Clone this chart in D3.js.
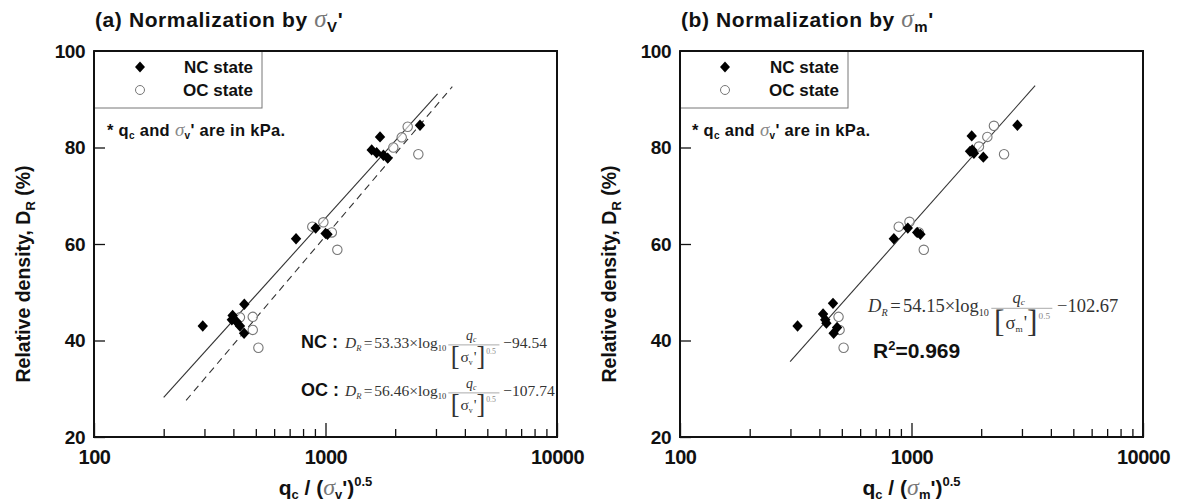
<!DOCTYPE html>
<html><head><meta charset="utf-8">
<script src="https://cdn.jsdelivr.net/npm/d3@7"></script>
<style>
body{margin:0;background:#fff}
text{font-family:"Liberation Sans",Arial,Helvetica,sans-serif}
.serif{font-family:"Liberation Serif","Times New Roman",serif}
</style>
</head><body>
<svg id="c" width="1179" height="502"></svg>
<script>
// ---------- data ----------
const xTickLabels = [100, 1000, 10000];
const xMinorTicks = [200,300,400,500,600,700,800,900,2000,3000,4000,5000,6000,7000,8000,9000];
const yTickLabels = [20, 40, 60, 80, 100];

// Panel (a): normalization by sigma_v'
const ncA_x = [295, 397, 394, 413, 427, 445, 446, 746, 907, 1001, 1020, 1583, 1663, 1779, 1856, 1720, 2560];
const ncA_y = [43.0, 45.2, 44.3, 43.9, 43.0, 41.5, 47.5, 61.1, 63.3, 62.2, 62.0, 79.5, 78.9, 78.4, 77.8, 82.2, 84.6];
const ocA_x = [427, 485, 485, 513, 877, 979, 1065, 1125, 1963, 2134, 2265, 2518];
const ocA_y = [44.8, 44.9, 42.2, 38.5, 63.6, 64.5, 62.4, 58.8, 80.0, 82.1, 84.3, 78.6];
const fitA_nc_x = [200, 3050];
const fitA_nc_y = [28.2, 91.1];
const fitA_oc_x = [250, 3530];
const fitA_oc_y = [27.6, 92.6];

// Panel (b): normalization by sigma_m'
const ncB_x = [322, 415, 424, 429, 458, 477, 461, 839, 964, 1058, 1093, 1790, 1830, 1860, 1820, 2043, 2868];
const ncB_y = [43.0, 45.5, 44.3, 43.6, 47.7, 42.7, 41.5, 61.1, 63.3, 62.4, 62.0, 79.2, 79.5, 78.8, 82.4, 78.0, 84.6];
const ocB_x = [484, 489, 509, 881, 980, 1076, 1130, 1956, 2126, 2270, 2511];
const ocB_y = [44.9, 42.2, 38.5, 63.6, 64.6, 62.4, 58.8, 80.2, 82.2, 84.5, 78.6];
const fitB_x = [299, 3420];
const fitB_y = [35.6, 92.8];

// ---------- drawing ----------
const svg = d3.select("#c");
const top_ = 51, bottom = 437;

function diamondPath(cx, cy, w, h){
  return `M${cx},${cy-h}L${cx+w},${cy}L${cx},${cy+h}L${cx-w},${cy}Z`;
}

function panel(opt){
  const g = svg.append("g");
  const x = d3.scaleLog().domain([100, 10000]).range([opt.left, opt.right]);
  const y = d3.scaleLinear().domain([20, 100]).range([bottom, top_]);

  // minor x ticks
  g.append("g").attr("transform", `translate(0,${bottom})`)
    .call(d3.axisBottom(x).tickValues(xMinorTicks).tickSizeInner(-8).tickSizeOuter(0).tickFormat(""))
    .call(a => a.select(".domain").remove())
    .call(a => a.selectAll("line").attr("stroke", "#111").attr("stroke-width", 1.3));
  // major x ticks + labels
  g.append("g").attr("transform", `translate(0,${bottom})`)
    .call(d3.axisBottom(x).tickValues(xTickLabels).tickSizeInner(-14).tickSizeOuter(0).tickPadding(13).tickFormat(d3.format("d")))
    .call(a => a.select(".domain").remove())
    .call(a => a.selectAll("line").attr("stroke", "#111").attr("stroke-width", 1.3))
    .call(a => a.selectAll("text").attr("font-size", 20).attr("font-weight", "bold").attr("fill", "#111")
                .attr("font-family", "'Liberation Sans',Arial,sans-serif").attr("letter-spacing", -0.5));
  // y ticks + labels
  g.append("g").attr("transform", `translate(${opt.left},0)`)
    .call(d3.axisLeft(y).tickValues(yTickLabels).tickSizeInner(-11).tickSizeOuter(0).tickPadding(9).tickFormat(d3.format("d")))
    .call(a => a.select(".domain").remove())
    .call(a => a.selectAll("line").attr("stroke", "#111").attr("stroke-width", 1.3))
    .call(a => a.selectAll("text").attr("font-size", 19).attr("font-weight", "bold").attr("fill", "#111")
                .attr("font-family", "'Liberation Sans',Arial,sans-serif").attr("letter-spacing", -0.5));

  // frame
  g.append("rect").attr("x", opt.left).attr("y", top_).attr("width", opt.right - opt.left).attr("height", bottom - top_)
    .attr("fill", "none").attr("stroke", "#111").attr("stroke-width", 2);

  // legend box
  g.append("rect").attr("x", opt.left).attr("y", top_).attr("width", opt.legW).attr("height", 57)
    .attr("fill", "#fff").attr("stroke", "#777").attr("stroke-width", 1);
  g.append("path").attr("d", diamondPath(opt.left + opt.legMark, 67, 5, 5.5)).attr("fill", "#000");
  g.append("circle").attr("cx", opt.left + opt.legMark).attr("cy", 90).attr("r", 4.5)
    .attr("fill", "#fff").attr("stroke", "#777").attr("stroke-width", 1);
  g.append("text").attr("x", opt.left + opt.legW - 9).attr("y", 73).attr("text-anchor", "end")
    .attr("font-size", 17).attr("font-weight", "bold").attr("fill", "#111").text("NC state");
  g.append("text").attr("x", opt.left + opt.legW - 9).attr("y", 96).attr("text-anchor", "end")
    .attr("font-size", 17).attr("font-weight", "bold").attr("fill", "#111").text("OC state");

  // re-draw frame top/left over legend
  g.append("line").attr("x1", opt.left).attr("x2", opt.right).attr("y1", top_).attr("y2", top_).attr("stroke", "#111").attr("stroke-width", 2);
  g.append("line").attr("x1", opt.left).attr("x2", opt.left).attr("y1", top_).attr("y2", bottom).attr("stroke", "#111").attr("stroke-width", 2);

  // note
  const note = g.append("text").attr("x", opt.left + opt.noteDx).attr("y", 136)
    .attr("font-size", 16.5).attr("font-weight", "bold").attr("fill", "#111").attr("letter-spacing", 0.3);
  note.append("tspan").text("* q");
  note.append("tspan").attr("font-size", 10).attr("dy", 3).text("c");
  note.append("tspan").attr("dy", -3).text(" and ");
  note.append("tspan").attr("class", "serif").attr("font-style", "italic").attr("font-weight", "normal").attr("fill", "#888").attr("font-size", 19).text("σ");
  note.append("tspan").attr("font-size", 10).attr("dy", 3).text("v");
  note.append("tspan").attr("dy", -3).text("' are in kPa.");

  // fit lines
  opt.fits.forEach(f => {
    const pts = f.x.map((v, i) => [x(v), y(f.y[i])]);
    g.append("path").attr("d", d3.line()(pts)).attr("fill", "none").attr("stroke", "#333")
      .attr("stroke-width", 1.1).attr("stroke-dasharray", f.dash ? "7,5" : null);
  });

  // OC circles
  opt.oc.x.forEach((v, i) => {
    g.append("circle").attr("cx", x(v)).attr("cy", y(opt.oc.y[i])).attr("r", 4.7)
      .attr("fill", "#fff").attr("fill-opacity", 0.6).attr("stroke", "#777").attr("stroke-width", 1.1);
  });
  // NC diamonds
  opt.nc.x.forEach((v, i) => {
    g.append("path").attr("d", diamondPath(x(v), y(opt.nc.y[i]), 5.2, 5.7)).attr("fill", "#000");
  });

  // title
  const t = g.append("text").attr("x", opt.left + 1).attr("y", 27).attr("font-size", 21).attr("font-weight", "bold")
    .attr("fill", "#111").attr("letter-spacing", 0.6);
  t.append("tspan").text("(" + opt.letter + ") Normalization by ");
  t.append("tspan").attr("class", "serif").attr("font-style", "italic").attr("font-weight", "normal").attr("fill", "#777").attr("font-size", 25).text("σ");
  t.append("tspan").attr("font-size", 15).attr("dy", 5).text(opt.titleSub);
  t.append("tspan").attr("dy", -5).text("'");

  // y axis title
  const yt = g.append("text").attr("transform", `translate(${opt.left - 64},${(top_ + bottom) / 2 + 30}) rotate(-90)`)
    .attr("text-anchor", "middle").attr("font-size", 19.5).attr("font-weight", "bold").attr("fill", "#111");
  yt.append("tspan").text("Relative density, D");
  yt.append("tspan").attr("font-size", 13).attr("dy", 5).text("R");
  yt.append("tspan").attr("dy", -5).text(" (%)");

  // x axis title
  const xt = g.append("text").attr("x", x(1000)).attr("y", 495).attr("text-anchor", "middle")
    .attr("font-size", 21).attr("font-weight", "bold").attr("fill", "#111");
  xt.append("tspan").text("q");
  xt.append("tspan").attr("font-size", 13).attr("dy", 4).text("c");
  xt.append("tspan").attr("dy", -4).text(" / (");
  xt.append("tspan").attr("class", "serif").attr("font-style", "italic").attr("font-weight", "normal").attr("fill", "#777").attr("font-size", 24).text("σ");
  xt.append("tspan").attr("font-size", 13).attr("dy", 4).text(opt.sub);
  xt.append("tspan").attr("dy", -4).text("')");
  xt.append("tspan").attr("font-size", 13).attr("dy", -9).text("0.5");

  return g;
}

// equation: D_R = k×log10 (q_c / [σ_s']^0.5) c
function equation(g, x0, yb, fs, coef, sub, cst){
  const col = "#333";
  const t = g.append("text").attr("class", "serif").attr("x", x0).attr("y", yb).attr("font-size", fs).attr("fill", col);
  t.append("tspan").attr("font-style", "italic").text("D");
  t.append("tspan").attr("font-style", "italic").attr("font-size", fs * 0.55).attr("dy", fs * 0.2).text("R");
  t.append("tspan").attr("dy", -fs * 0.2).attr("dx", fs * 0.15).text("=");
  t.append("tspan").attr("dx", fs * 0.12).text(coef + "×log");
  t.append("tspan").attr("font-size", fs * 0.55).attr("dy", fs * 0.2).text("10");
  const w = t.node().getComputedTextLength();
  const fx = x0 + w + fs * 0.4;
  const fw = fs * 3.3;
  const ly = yb - fs * 0.2;
  // numerator
  const num = g.append("text").attr("class", "serif").attr("x", fx + fw * 0.45).attr("y", ly - fs * 0.3)
    .attr("text-anchor", "middle").attr("font-size", fs * 0.9).attr("fill", col);
  num.append("tspan").attr("font-style", "italic").text("q");
  num.append("tspan").attr("font-style", "italic").attr("font-size", fs * 0.5).attr("dy", fs * 0.12).text("c");
  // line
  g.append("line").attr("x1", fx).attr("x2", fx + fw).attr("y1", ly).attr("y2", ly).attr("stroke", "#aaa").attr("stroke-width", 1);
  // denominator
  const den = g.append("text").attr("class", "serif").attr("x", fx + fs * 0.15).attr("y", ly + fs * 1.1)
    .attr("font-size", fs).attr("fill", col);
  den.append("tspan").attr("font-size", fs * 1.7).attr("dy", fs * 0.2).text("[");
  den.append("tspan").attr("dy", -fs * 0.2).attr("dx", 1).text("σ");
  den.append("tspan").attr("font-size", fs * 0.5).attr("dy", fs * 0.2).text(sub);
  den.append("tspan").attr("dy", -fs * 0.2).attr("dx", 1).text("'");
  den.append("tspan").attr("font-size", fs * 1.7).attr("dy", fs * 0.2).text("]");
  den.append("tspan").attr("font-size", fs * 0.5).attr("fill", "#888").attr("dx", 1).attr("dy", -fs * 0.72).text("0.5");
  // constant
  g.append("text").attr("class", "serif").attr("x", fx + fw + fs * 0.25).attr("y", yb).attr("font-size", fs)
    .attr("fill", col).text(cst);
}

const gA = panel({
  letter: "a", sub: "v", titleSub: "V", left: 94, right: 557, legW: 168, legMark: 46, noteDx: 13,
  nc: {x: ncA_x, y: ncA_y}, oc: {x: ocA_x, y: ocA_y},
  fits: [{x: fitA_nc_x, y: fitA_nc_y, dash: false}, {x: fitA_oc_x, y: fitA_oc_y, dash: true}]
});
const gB = panel({
  letter: "b", sub: "m", titleSub: "m", left: 680, right: 1143, legW: 168, legMark: 45, noteDx: 12,
  nc: {x: ncB_x, y: ncB_y}, oc: {x: ocB_x, y: ocB_y},
  fits: [{x: fitB_x, y: fitB_y, dash: false}]
});

// equations panel a
gA.append("text").attr("x", 301).attr("y", 348).attr("font-size", 18).attr("font-weight", "bold").attr("fill", "#111").text("NC :");
equation(gA, 345, 348, 15.5, "53.33", "v", "−94.54");
gA.append("text").attr("x", 301).attr("y", 396).attr("font-size", 18).attr("font-weight", "bold").attr("fill", "#111").text("OC :");
equation(gA, 345, 396, 15.5, "56.46", "v", "−107.74");

// equation panel b
equation(gB, 868, 312, 18.5, "54.15", "m", "−102.67");
const r2 = gB.append("text").attr("x", 873).attr("y", 358).attr("font-size", 21).attr("font-weight", "bold").attr("fill", "#111");
r2.append("tspan").text("R");
r2.append("tspan").attr("font-size", 13).attr("dy", -8).text("2");
r2.append("tspan").attr("dy", 8).text("=0.969");
</script>
</body></html>
